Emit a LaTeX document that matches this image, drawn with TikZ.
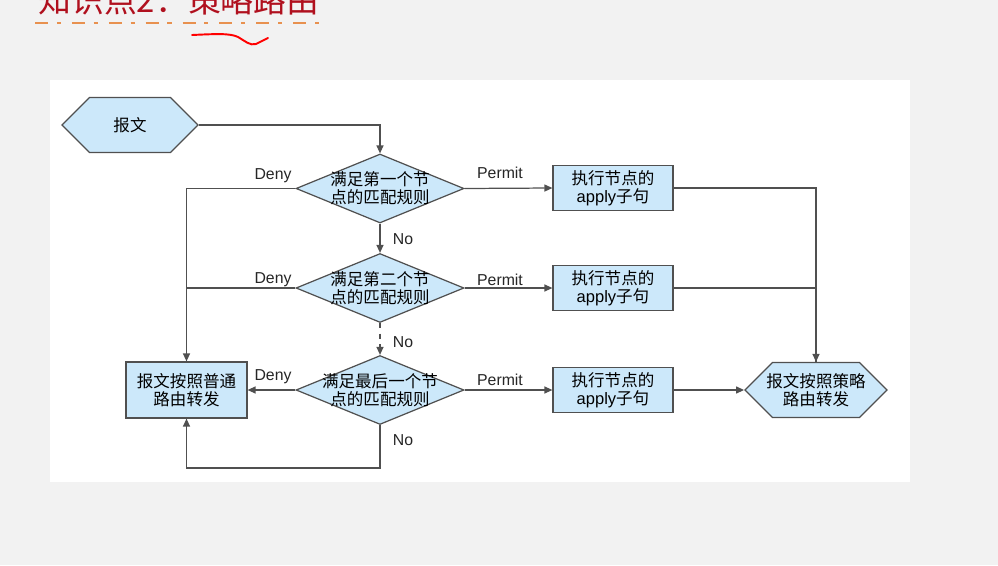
\documentclass[tikz,border=0pt]{standalone}
\usepackage{fontspec}
\setmainfont{Liberation Sans}
\newfontfamily\cjk{Noto Sans CJK SC}
\usetikzlibrary{shapes.geometric, shapes.symbols, arrows.meta, positioning}

\definecolor{boxblue}{HTML}{CCE8FA}
\definecolor{edgegray}{HTML}{505050}
\definecolor{titlered}{HTML}{B0101E}
\definecolor{dashorange}{HTML}{E8914F}
\definecolor{pagegray}{HTML}{F2F2F2}

\begin{document}
\begin{tikzpicture}[x=0.02cm, y=-0.02cm,
	proc/.style={rectangle, draw=edgegray, line width=0.7pt, fill=boxblue, minimum width=2.4cm, minimum height=0.9cm, align=center, inner sep=0pt, font=\cjk\fontsize{9.4}{10.4}\selectfont},
	dec/.style={diamond, draw=edgegray, line width=0.7pt, fill=boxblue, minimum width=3.36cm, minimum height=1.38cm, inner sep=0pt},
	dectext/.style={align=center, inner sep=0pt, font=\cjk\fontsize{9.4}{10.4}\selectfont},
	hexa/.style={signal, signal to=east and west, draw=edgegray, line width=0.7pt, fill=boxblue, minimum width=2.72cm, minimum height=1.1cm, inner sep=0pt, align=center, font=\cjk\fontsize{9.4}{10.4}\selectfont},
	line/.style={edgegray, line width=0.7pt},
	conn/.style={line, -{Triangle[length=1.6mm, width=1.4mm]}},
	lbl/.style={inner sep=0pt, font=\fontsize{9}{10}\selectfont, text=black!85},
]
	\clip (0,0) rectangle (998,565);
	\fill[pagegray] (0,0) rectangle (998,565);
	\fill[white] (50,80) rectangle (910,482);

	% Title
	\node[anchor=base west, inner sep=0pt, text=titlered, font=\cjk\fontsize{18.7}{20}\selectfont] (title) at (38,12) {知识点2：策略路由};
	\draw[dashorange, line width=1.7pt, dash pattern=on 7.4pt off 5pt on 2.3pt off 6.3pt] (35,23) -- (322,23);
	\draw[red, line width=1.1pt, line cap=round] (192,35) .. controls (215,34) and (230,33) .. (238,37) .. controls (245,41) and (250,46) .. (256,44) .. controls (260,42) and (264,40) .. (268,38);

	% Start
	\node[hexa] (msg) at (130,125) {报文};

	% Match nodes (middle column)
	\node[dec, label={[dectext]center:满足第一个节\\点的匹配规则}] (d1) at (380,188.5) {};
	\node[dec, label={[dectext]center:满足第二个节\\点的匹配规则}] (d2) at (380,288) {};
	\node[dec, label={[dectext]center:满足最后一个节\\点的匹配规则}] (d3) at (380,390) {};

	% Apply clauses (right column)
	\node[proc] (ap1) at (613,188) {执行节点的\\{\rmfamily apply}子句};
	\node[proc] (ap2) at (613,288) {执行节点的\\{\rmfamily apply}子句};
	\node[proc] (ap3) at (613,390) {执行节点的\\{\rmfamily apply}子句};

	% Results
	\node[proc, minimum width=2.42cm, minimum height=1.12cm] (plain) at (186.5,390) {报文按照普通\\路由转发};
	\node[hexa, inner xsep=-1.2mm] (policy) at (816,390) {报文按照策略\\路由转发};

	% Flow
	\draw[conn] (msg.east) -| (d1.north);
	\draw[conn] (d1.south) -- (d2.north);
	\draw[conn, dashed] (d2.south) -- (d3.north);
	\draw[conn] (d1.west) -| (plain.north);
	\draw[line] (d2.west) -| (plain.north);
	\draw[conn] (d3.west) -- (plain.east);
	\draw[conn] (d3.south) -- ++(0,43) -| (plain.south);

	\draw[conn] (d1.east) -- (ap1.west);
	\draw[conn] (d2.east) -- (ap2.west);
	\draw[conn] (d3.east) -- (ap3.west);
	\draw[conn] (ap1.east) -| (policy.north);
	\draw[line] (ap2.east) -| (policy.north);
	\draw[conn] (ap3.east) -- (policy.west);

	% Labels
	\node[lbl] (deny1) at (273,176) {Deny};
	\node[lbl] (deny2) at (273,280) {Deny};
	\node[lbl] (deny3) at (273,377) {Deny};
	\node[lbl] (permit1) at (500,173) {Permit};
	\node[lbl] (permit2) at (500,280) {Permit};
	\node[lbl] (permit3) at (500,380) {Permit};
	\node[lbl] (no1) at (403,239) {No};
	\node[lbl] (no2) at (403,342) {No};
	\node[lbl] (no3) at (403,440) {No};

\end{tikzpicture}
\end{document}
